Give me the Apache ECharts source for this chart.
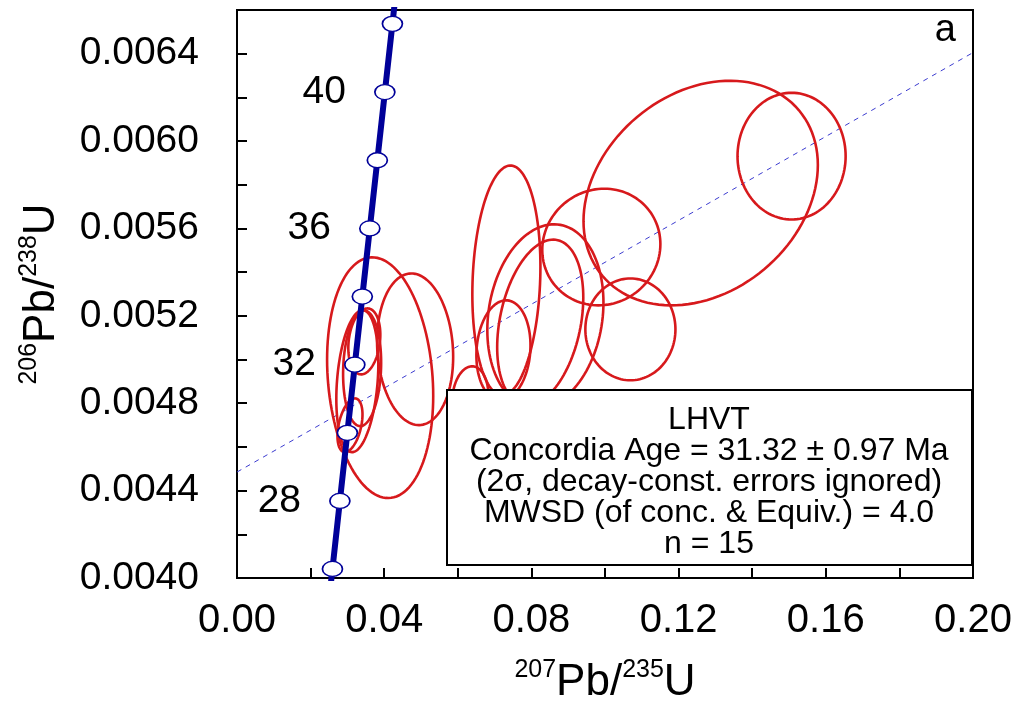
<!DOCTYPE html>
<html lang="en">
<head>
    <meta charset="UTF-8">
    <title>Concordia diagram LHVT</title>
    <script src="https://cdn.jsdelivr.net/npm/echarts@6/dist/echarts.min.js"></script>
    <style>
        html, body { margin: 0; padding: 0; background: #fff; }
    </style>
</head>
<body>
    <div id="chart" style="width: 1016px; height: 703px;"></div>
    <script>
        // Concordia curve (ages in Ma and the two ratios)
        var concAges = [24, 26, 28, 30, 32, 34, 36, 38, 40, 42, 44];
        var concX = [0.023918, 0.025937, 0.027960, 0.029986, 0.032017, 0.034052, 0.036091, 0.038133, 0.040180, 0.042231, 0.044286];
        var concY = [0.0037299, 0.0040414, 0.0043529, 0.0046646, 0.0049763, 0.0052882, 0.0056001, 0.0059122, 0.0062243, 0.0065365, 0.0068488];
        var labelledAges = [28, 32, 36, 40];

        // Error ellipses: centre, half extent in x and y, correlation
        var ellCx  = [0.1260, 0.1507, 0.0990, 0.1069, 0.0732, 0.0838, 0.0824, 0.0724, 0.0634, 0.0389, 0.0484, 0.0327, 0.0346, 0.0340, 0.0307];
        var ellCy  = [0.005762, 0.005931, 0.005515, 0.005138, 0.005362, 0.005198, 0.005170, 0.005042, 0.004823, 0.004917, 0.005047, 0.004901, 0.005083, 0.004960, 0.004699];
        var ellDx  = [0.03184, 0.01469, 0.01605, 0.01224, 0.00925, 0.01578, 0.01170, 0.00735, 0.00490, 0.01442, 0.01034, 0.00571, 0.00435, 0.00517, 0.00340];
        var ellDy  = [0.000514, 0.000290, 0.000267, 0.000233, 0.000526, 0.000421, 0.000379, 0.000229, 0.000146, 0.000551, 0.000347, 0.000325, 0.000151, 0.000265, 0.000123];
        var ellRho = [0.25, 0.0, 0.05, 0.0, 0.12, 0.15, 0.3, 0.1, 0.1, -0.15, -0.1, 0.25, 0.2, 0.1, 0.4];

        // Reference line (dashed)
        var refLineX = [0.0, 0.20];
        var refLineY = [0.004485, 0.006405];

        var boxLines = [
            'LHVT',
            'Concordia Age = 31.32 \u00b1 0.97 Ma',
            '(2\u03c3, decay-const. errors ignored)',
            'MWSD (of conc. & Equiv.) = 4.0',
            'n = 15'
        ];

        var FONT = '"Liberation Sans", Arial, sans-serif';
        var chart = echarts.init(document.getElementById('chart'));

        var concData = concAges.map(function (a, i) {
            var item = { value: [concX[i], concY[i]] };
            if (labelledAges.indexOf(a) >= 0) {
                item.label = { show: true, formatter: String(a) };
            }
            return item;
        });

        var ellData = ellCx.map(function (c, i) {
            return [c, ellCy[i], ellDx[i], ellDy[i], ellRho[i]];
        });

        var titleRich = {
            b: { fontFamily: FONT, fontSize: 44, lineHeight: 50, color: '#000' },
            sup: { fontFamily: FONT, fontSize: 25, lineHeight: 28, verticalAlign: 'top', color: '#000' }
        };

        var option = {
            backgroundColor: '#fff',
            animation: false,
            grid: {
                left: 237, right: 43, top: 10, bottom: 125,
                outerBoundsMode: 'none', containLabel: false,
                show: true, borderColor: '#000', borderWidth: 2
            },
            xAxis: {
                type: 'value', min: 0, max: 0.2, interval: 0.02,
                name: '{sup|207}{b|Pb/}{sup|235}{b|U}',
                nameLocation: 'middle', nameGap: 80,
                nameTextStyle: { rich: titleRich },
                axisLine: { lineStyle: { color: '#000', width: 2 } },
                axisTick: { inside: true, length: 10, lineStyle: { color: '#000', width: 2 } },
                splitLine: { show: false },
                axisLabel: {
                    margin: 23, fontFamily: FONT, fontSize: 40, color: '#000',
                    formatter: function (v) {
                        return Math.round(v / 0.02) % 2 === 0 ? v.toFixed(2) : '';
                    }
                }
            },
            yAxis: {
                type: 'value', min: 0.004, max: 0.0066, interval: 0.0002,
                name: '{sup|206}{b|Pb/}{sup|238}{b|U}',
                nameLocation: 'middle', nameGap: 170, nameRotate: 90,
                nameTextStyle: { rich: titleRich },
                axisLine: { lineStyle: { color: '#000', width: 2 } },
                axisTick: { inside: true, length: 10, lineStyle: { color: '#000', width: 2 } },
                splitLine: { show: false },
                axisLabel: {
                    margin: 38, fontFamily: FONT, fontSize: 39, color: '#000',
                    formatter: function (v) {
                        return Math.round(v / 0.0002) % 2 === 0 ? v.toFixed(4) : '';
                    }
                }
            },
            series: [
                {
                    type: 'line',
                    data: refLineX.map(function (x, i) { return [x, refLineY[i]]; }),
                    showSymbol: false,
                    lineStyle: { color: '#3c3cd0', width: 1, type: [5, 5] },
                    z: 1
                },
                {
                    type: 'custom',
                    data: ellData,
                    z: 3,
                    renderItem: function (params, api) {
                        var cx = api.value(0), cy = api.value(1);
                        var dx = api.value(2), dy = api.value(3), r = api.value(4);
                        var s = Math.sqrt(1 - r * r);
                        var pts = [];
                        for (var i = 0; i < 120; i++) {
                            var t = i / 120 * 2 * Math.PI;
                            pts.push(api.coord([
                                cx + dx * Math.cos(t),
                                cy + dy * (r * Math.cos(t) + s * Math.sin(t))
                            ]));
                        }
                        return {
                            type: 'polygon',
                            shape: { points: pts },
                            style: { fill: 'none', stroke: '#d7191c', lineWidth: 2.6 }
                        };
                    }
                },
                {
                    type: 'line',
                    data: concData,
                    clip: true,
                    symbol: 'circle',
                    symbolSize: [20, 15],
                    showAllSymbol: true,
                    lineStyle: { color: '#000099', width: 6 },
                    itemStyle: { color: '#fff', borderColor: '#000099', borderWidth: 1.5 },
                    label: {
                        show: false, position: 'left', distance: 28,
                        fontFamily: FONT, fontSize: 39, color: '#000'
                    },
                    z: 5
                }
            ],
            graphic: [
                {
                    type: 'rect', z: 100,
                    shape: { x: 447, y: 390, width: 525, height: 175 },
                    style: { fill: '#fff', stroke: '#000', lineWidth: 2 }
                },
                {
                    type: 'text', z: 101,
                    x: 709, y: 405,
                    style: {
                        text: boxLines.join('\n'),
                        fontFamily: FONT, fontSize: 32, lineHeight: 31,
                        fill: '#000', align: 'center', verticalAlign: 'top'
                    }
                },
                {
                    type: 'text', z: 101,
                    x: 956, y: 31,
                    style: {
                        text: 'a', fontFamily: FONT, fontSize: 38,
                        fill: '#000', align: 'right', verticalAlign: 'middle'
                    }
                }
            ]
        };

        chart.setOption(option);
    </script>
</body>
</html>
